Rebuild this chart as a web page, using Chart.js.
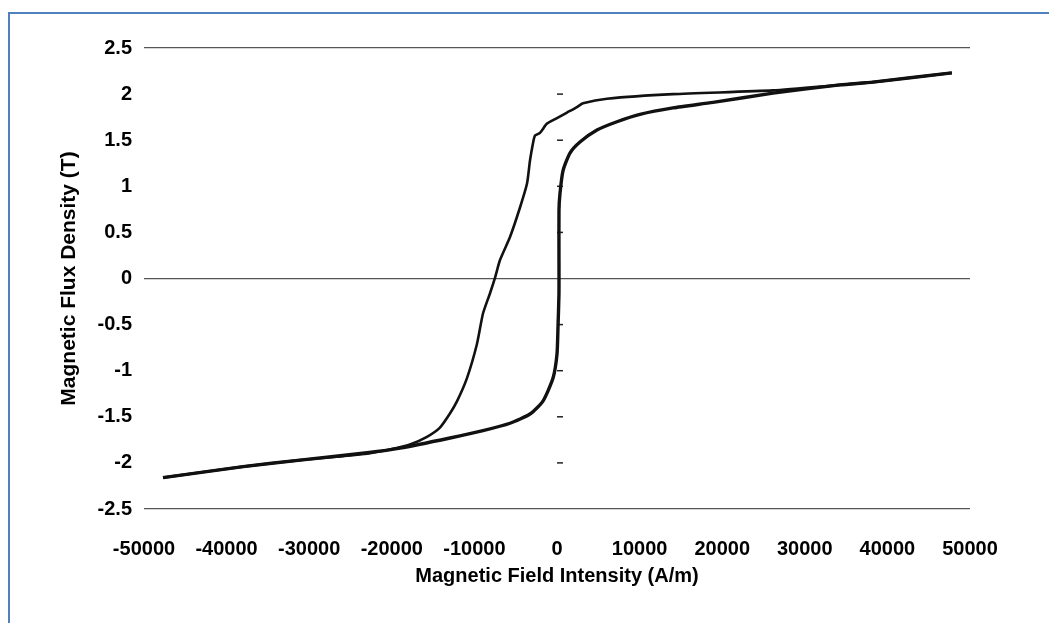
<!DOCTYPE html>
<html>
<head>
<meta charset="utf-8">
<script src="https://cdn.jsdelivr.net/npm/chart.js@4/dist/chart.umd.min.js"></script>
<style>
    html, body { margin: 0; padding: 0; background: #fff; }
    #wrap { position: relative; width: 1049px; height: 623px; overflow: hidden; }
    #frame {
        position: absolute; left: 8px; top: 12px; right: -10px; bottom: -10px;
        border-left: 2px solid #4f81bd; border-top: 2px solid #4f81bd;
        pointer-events: none;
    }
</style>
</head>
<body>
<div id="wrap">
    <canvas id="loop" width="1049" height="623"></canvas>
    <div id="frame"></div>
</div>
<script>
// branch read while H goes from +saturation down to -saturation
const descH = [47800, 38250, 34260, 26150, 14040, 6050, 3150, 2420, 1210, 0, -1210, -2060, -2660, -2900, -3270, -3630, -4480, -5690, -6900, -7500, -8110, -8960, -9690, -10900, -12100, -13000, -14200, -15800, -17800, -20000, -23000, -31100, -38000, -47700];
const descB = [2.23, 2.13, 2.10, 2.04, 2.00, 1.95, 1.90, 1.86, 1.80, 1.74, 1.68, 1.58, 1.55, 1.47, 1.28, 1.03, 0.77, 0.45, 0.20, 0.01, -0.16, -0.38, -0.71, -1.08, -1.33, -1.47, -1.62, -1.72, -1.80, -1.85, -1.90, -1.97, -2.04, -2.16];

// branch read while H goes back up
const ascH = [-47700, -38000, -31100, -23000, -19000, -12950, -8960, -5690, -3270, -1700, -480, 0, 120, 240, 240, 240, 360, 730, 1570, 2780, 4840, 7260, 10040, 14040, 18890, 26150, 34260, 38250, 47800];
const ascB = [-2.16, -2.04, -1.97, -1.89, -1.84, -1.73, -1.65, -1.57, -1.47, -1.33, -1.08, -0.82, -0.53, -0.16, 0.20, 0.74, 0.92, 1.17, 1.36, 1.48, 1.61, 1.70, 1.78, 1.85, 1.91, 2.01, 2.10, 2.13, 2.23];

const xTitle = 'Magnetic Field Intensity (A/m)';
const yTitle = 'Magnetic Flux Density (T)';
const framedValues = [2.5, 0, -2.5];

const toPoints = (hs, bs) => hs.map((h, i) => ({ x: h, y: bs[i] }));
const fontFamily = '"Liberation Sans", Arial, Helvetica, sans-serif';
const plainLabel = v => String(Number(v.toFixed(2)));

// little dashes on the hidden axis at H = 0
const zeroTicks = {
    id: 'zeroTicks',
    beforeDatasetsDraw(chart) {
        const xs = chart.scales.x, ys = chart.scales.y;
        const x0 = xs.getPixelForValue(0);
        const ctx = chart.ctx;
        ctx.save();
        ctx.strokeStyle = '#222';
        ctx.lineWidth = 1.5;
        ys.ticks.forEach(t => {
            if (framedValues.includes(t.value)) return;
            const y = ys.getPixelForValue(t.value);
            ctx.beginPath();
            ctx.moveTo(x0, y);
            ctx.lineTo(x0 + 6, y);
            ctx.stroke();
        });
        ctx.restore();
    }
};

new Chart(document.getElementById('loop').getContext('2d'), {
    type: 'scatter',
    data: {
        datasets: [
            {
                label: 'decreasing H',
                data: toPoints(descH, descB),
                showLine: true,
                borderColor: '#111',
                borderWidth: 2.6,
                pointRadius: 0,
                tension: 0.2
            },
            {
                label: 'increasing H',
                data: toPoints(ascH, ascB),
                showLine: true,
                borderColor: '#111',
                borderWidth: 3.4,
                pointRadius: 0,
                tension: 0.2
            }
        ]
    },
    options: {
        responsive: false,
        animation: false,
        plugins: {
            legend: { display: false },
            tooltip: { enabled: false }
        },
        layout: {
            padding: { left: 0, right: 79, top: 48, bottom: 14 }
        },
        scales: {
            x: {
                type: 'linear',
                min: -50000,
                max: 50000,
                afterFit: scale => { scale.height = 100; },
                border: { display: false },
                grid: { display: false },
                ticks: {
                    stepSize: 10000,
                    autoSkip: false,
                    maxRotation: 0,
                    padding: 20,
                    color: '#000',
                    callback: plainLabel,
                    font: { family: fontFamily, size: 20, weight: 'bold' }
                },
                title: {
                    display: true,
                    text: xTitle,
                    color: '#000',
                    padding: { bottom: 21 },
                    font: { family: fontFamily, size: 20, weight: 'bold' }
                }
            },
            y: {
                type: 'linear',
                min: -2.5,
                max: 2.5,
                afterFit: scale => { scale.width = 144; },
                border: { display: false },
                grid: {
                    drawTicks: false,
                    lineWidth: 1.3,
                    color: ctx => framedValues.includes(ctx.tick.value) ? '#555' : 'rgba(0,0,0,0)'
                },
                ticks: {
                    stepSize: 0.5,
                    padding: 12,
                    color: '#000',
                    callback: plainLabel,
                    font: { family: fontFamily, size: 20, weight: 'bold' }
                },
                title: {
                    display: true,
                    text: yTitle,
                    color: '#000',
                    padding: { top: 57 },
                    font: { family: fontFamily, size: 21, weight: 'bold' }
                }
            }
        }
    },
    plugins: [zeroTicks]
});
</script>
</body>
</html>
